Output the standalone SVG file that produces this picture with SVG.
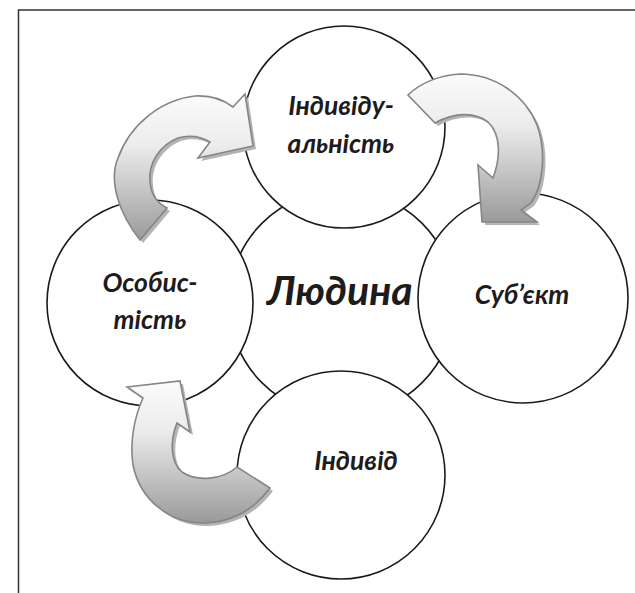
<svg xmlns="http://www.w3.org/2000/svg" xmlns:xlink="http://www.w3.org/1999/xlink" width="635" height="593" viewBox="0 0 635 593">
<style>
.circ{fill:#fff;stroke:#1a1a1a;stroke-width:1.6}
.lbl{font-family:Lato,"Open Sans","DejaVu Sans",sans-serif;font-weight:bold;font-style:italic;font-size:26.5px;fill:#1e1b1c;text-anchor:middle}
.big{font-size:41px}
.arr{stroke:#858585;stroke-width:1.6;stroke-linejoin:miter}
.shd{fill:#b4b4b4;stroke:none}
</style>
<defs>
<linearGradient id="g1" x1="0" y1="95" x2="0" y2="240" gradientUnits="userSpaceOnUse"><stop offset="0" stop-color="#fbfbfc"/><stop offset="0.35" stop-color="#ececec"/><stop offset="1" stop-color="#9a9a9a"/></linearGradient>
<linearGradient id="g2" x1="0" y1="74" x2="0" y2="222" gradientUnits="userSpaceOnUse"><stop offset="0" stop-color="#fbfbfc"/><stop offset="0.35" stop-color="#ececec"/><stop offset="1" stop-color="#9a9a9a"/></linearGradient>
<linearGradient id="g3" x1="0" y1="381" x2="0" y2="523" gradientUnits="userSpaceOnUse"><stop offset="0" stop-color="#fbfbfc"/><stop offset="0.35" stop-color="#ececec"/><stop offset="1" stop-color="#9a9a9a"/></linearGradient>
<path id="a1" d="M140,240 C120,215 108,182 118,158 C130,125 160,100 195,96 C212,95 224,100 233,107 L245,94 L253,146 L198,158 L210,142 C200,136 188,135 178,138 C160,145 148,163 150,182 C151,195 157,203 167,208 Z"/>
<path id="a2" d="M408,95 C420,83 440,75 460,74 C495,74 525,95 537,125 C546,150 544,185 531,203 L521,210 L537,222 L482,222 L478,165 L493,178 C500,160 502,135 488,122 C475,112 455,112 435,123 Z"/>
<path id="a3" d="M127,387 L180,381 L190,432 L177,423 C170,440 170,462 182,472 C197,482 222,480 237,467 L270,488 C255,508 235,522 205,523 C170,524 140,500 133,465 C130,445 133,420 143,398 Z"/>
</defs>
<rect x="18.5" y="10" width="640" height="600" fill="#fff" stroke="#333" stroke-width="1.5"/>
<g id="node-center"><circle class="circ" cx="342" cy="303" r="113"/><text class="lbl big" x="340" y="305">Людина</text></g>
<g id="node-top"><circle class="circ" cx="344" cy="127" r="101"/><text class="lbl" x="341" y="115">Індивіду-</text><text class="lbl" x="341" y="153">альність</text></g>
<g id="node-left"><circle class="circ" cx="150" cy="303" r="103"/><text class="lbl" x="150" y="292">Особис-</text><text class="lbl" x="150" y="329">тість</text></g>
<g id="node-right"><circle class="circ" cx="523" cy="298" r="105"/><text class="lbl" x="522" y="304">Суб’єкт</text></g>
<g id="node-bottom"><circle class="circ" cx="341" cy="475" r="104"/><text class="lbl" x="356" y="470">Індивід</text></g>
<g id="connectors">
<use xlink:href="#a1" class="shd" transform="translate(3,3)"/>
<use xlink:href="#a1" class="arr" fill="url(#g1)"/>
<use xlink:href="#a2" class="shd" transform="translate(3,3)"/>
<use xlink:href="#a2" class="arr" fill="url(#g2)"/>
<use xlink:href="#a3" class="shd" transform="translate(3,3)"/>
<use xlink:href="#a3" class="arr" fill="url(#g3)"/>
</g>
</svg>
